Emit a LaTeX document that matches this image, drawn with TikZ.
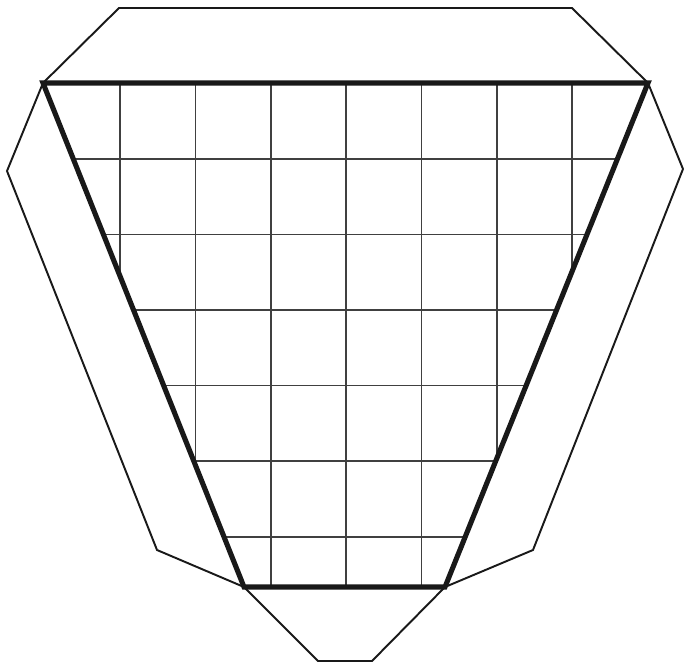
\documentclass[tikz,border=0pt]{standalone}
\begin{document}
\begin{tikzpicture}[x=0.02cm,y=-0.02cm,
  flap/.style={draw=black!90,line width=1.1pt,line join=miter},
  trap/.style={draw=black!90,line width=2.9pt,line join=miter},
  gridline/.style={draw=black!75,line width=0.6pt}]
\useasboundingbox (0,0) rectangle (684,663);
\coordinate (TL) at (43,83);
\coordinate (TR) at (648,83);
\coordinate (BR) at (445,587);
\coordinate (BL) at (244,587);
% grid clipped to trapezoid
\begin{scope}
\clip (TL) -- (TR) -- (BR) -- (BL) -- cycle;
\foreach \x in {120,195.5,271,346,421.5,497,572}
  \draw[gridline] (\x,80) -- (\x,590);
\foreach \y in {159,234.5,310,385.5,461,537}
  \draw[gridline] (40,\y) -- (650,\y);
\end{scope}
% flaps
\coordinate (T1) at (119,8);
\coordinate (T2) at (572,8);
\coordinate (L1) at (7,171);
\coordinate (L2) at (157,550);
\coordinate (R1) at (683,169);
\coordinate (R2) at (533,550);
\coordinate (B1) at (318,661);
\coordinate (B2) at (372,661);
\draw[flap] (TL) -- (T1) -- (T2) -- (TR);
\draw[flap] (TL) -- (L1) -- (L2) -- (BL);
\draw[flap] (TR) -- (R1) -- (R2) -- (BR);
\draw[flap] (BL) -- (B1) -- (B2) -- (BR);
\draw[trap] (TL) -- (TR) -- (BR) -- (BL) -- cycle;
\end{tikzpicture}
\end{document}
